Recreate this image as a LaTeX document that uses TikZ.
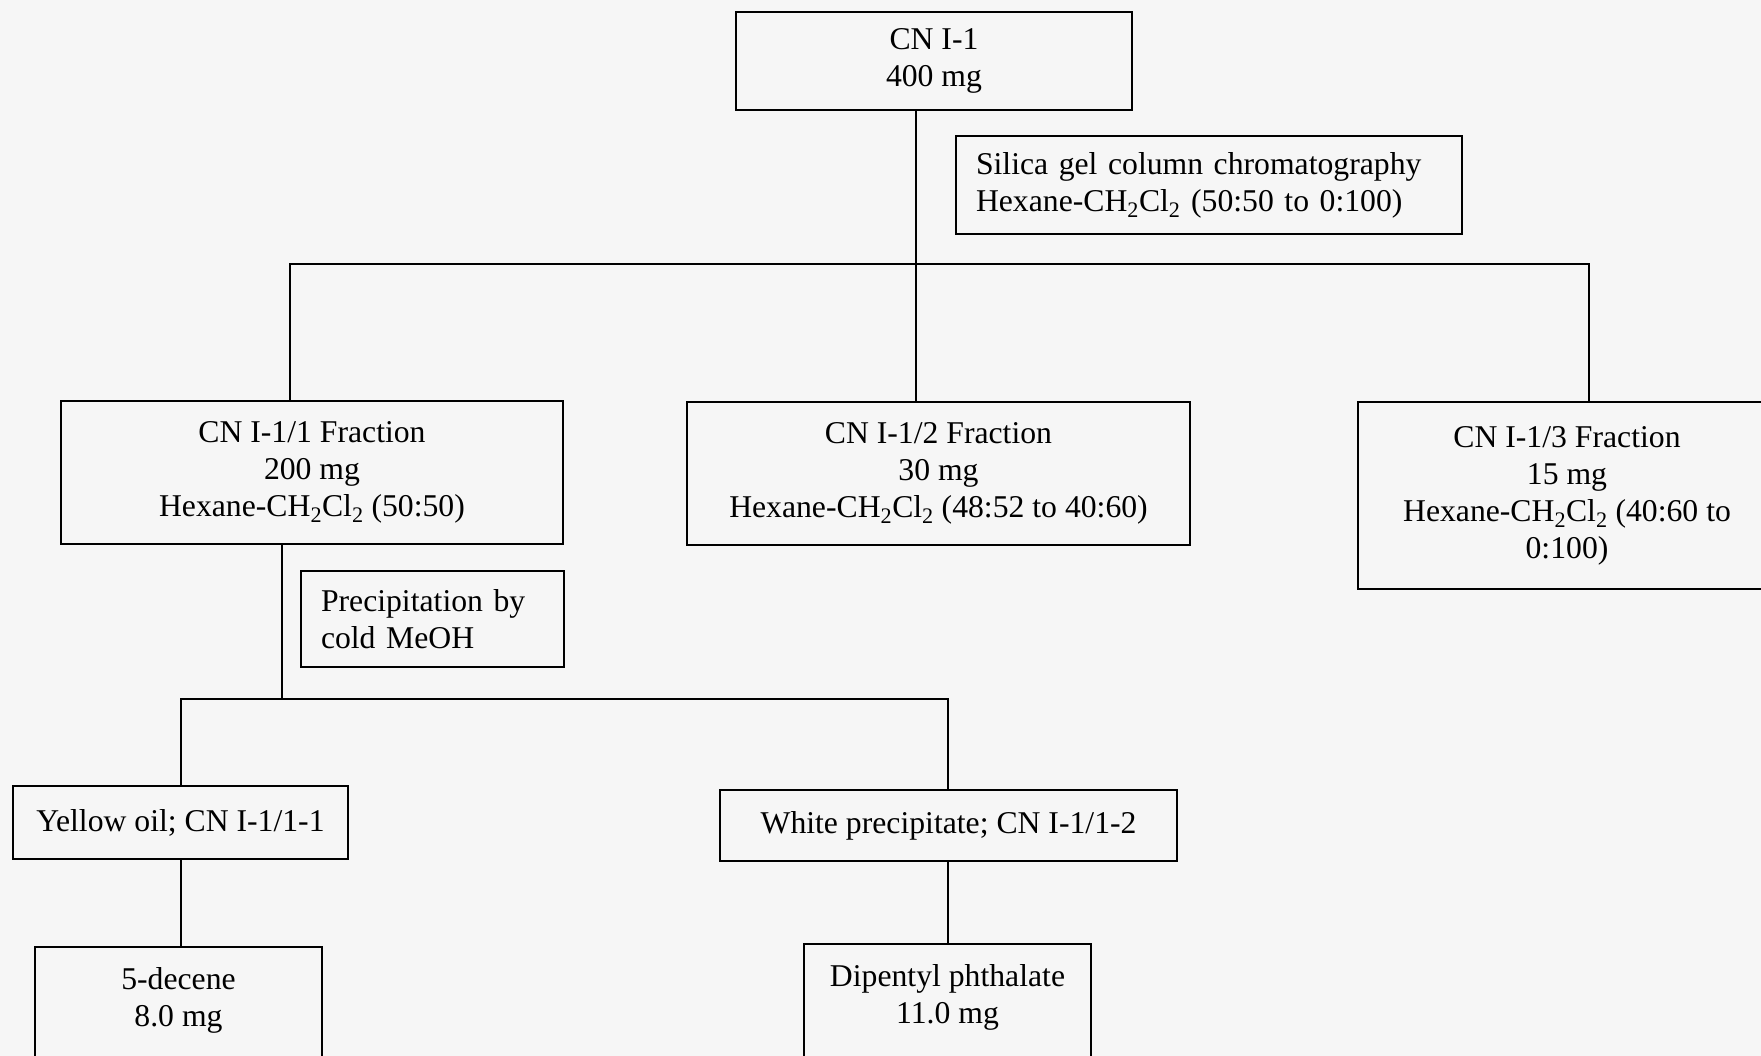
\documentclass[tikz,border=0pt]{standalone}
\usepackage{fontspec}
\setmainfont{Liberation Serif}
\definecolor{bgc}{RGB}{246,246,246}
\begin{document}
\begin{tikzpicture}[x=1pt,y=-1pt,
  box/.style={draw=black, line width=1.8pt, inner sep=0pt, align=center, font=\fontsize{31.7}{37}\selectfont},
  lbl/.style={font=\fontsize{31.7}{37}\selectfont, align=center, anchor=north},
  conn/.style={line width=1.1pt}]
\fill[bgc] (0,0) rectangle (1761,1056);
\useasboundingbox (0,0) rectangle (1761,1056);

\node[box, minimum width=396pt, minimum height=98pt] (top) at (934,61) {CN I-1\\400 mg};
\node[box, minimum height=98pt, text width=466pt, inner xsep=20pt, align=left] (silica) at (1209,185)
  {Silica gel column chromatography\\Hexane-CH\textsubscript{2}Cl\textsubscript{2} (50:50 to 0:100)};

\node[box, minimum width=502pt, minimum height=143pt] (f1) at (312,472.5)
  {CN I-1/1 Fraction\\200 mg\\Hexane-CH\textsubscript{2}Cl\textsubscript{2} (50:50)};
\node[box, minimum width=503pt, minimum height=143pt] (f2) at (938.5,473.5)
  {CN I-1/2 Fraction\\30 mg\\Hexane-CH\textsubscript{2}Cl\textsubscript{2} (48:52 to 40:60)};
\node[box, minimum width=418pt, minimum height=187pt] (f3) at (1567,495.5)
  {CN I-1/3 Fraction\\15 mg\\Hexane-CH\textsubscript{2}Cl\textsubscript{2} (40:60 to\\0:100)};

\node[box, minimum width=263pt, minimum height=96pt, text width=223pt, inner xsep=20pt, align=left] (precip) at (432.5,619)
  {Precipitation by\\cold MeOH};

\node[box, minimum width=335pt, minimum height=73pt] (yellow) at (180.5,822.5) {Yellow oil; CN I-1/1-1};
\node[box, minimum width=457pt, minimum height=71pt] (white) at (948.5,825.5) {White precipitate; CN I-1/1-2};

\node[box, minimum width=287pt, minimum height=160pt, anchor=north,
  label={[lbl, yshift=-18pt]north:{5-decene\\8.0 mg}}] (decene) at (178.5,946) {};
\node[box, minimum width=287pt, minimum height=160pt, anchor=north,
  label={[lbl, yshift=-18pt]north:{Dipentyl phthalate\\11.0 mg}}] (dip) at (947.5,943) {};

\coordinate (trunk) at (916,264);
\coordinate (lbar) at (290,264);
\coordinate (rbar) at (1589,264);
\draw[conn] (top.south -| trunk) -- (f2.north -| trunk);
\draw[conn] (f1.north -| lbar) |- (rbar) -- (f3.north -| rbar);

\coordinate (sub) at (282,699);
\coordinate (lb2) at (181,699);
\coordinate (rb2) at (948,699);
\draw[conn] (f1.south -| sub) -- (sub);
\draw[conn] (yellow.north -| lb2) |- (rb2) -- (white.north -| rb2);
\draw[conn] (yellow.south -| lb2) -- (decene.north -| lb2);
\draw[conn] (white.south -| rb2) -- (dip.north -| rb2);
\end{tikzpicture}
\end{document}
